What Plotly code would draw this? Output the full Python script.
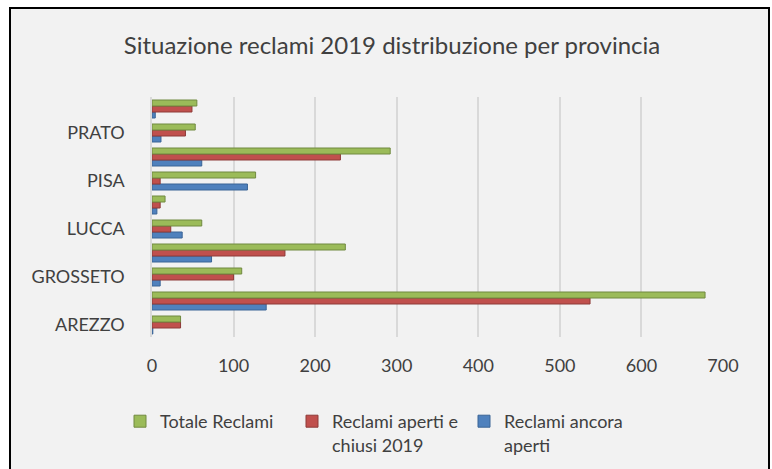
import plotly.graph_objects as go

province = ["AREZZO", "FIRENZE", "GROSSETO", "LIVORNO", "LUCCA",
            "MASSA CARRARA", "PISA", "PISTOIA", "PRATO", "SIENA"]
tick_labels = ["AREZZO", "GROSSETO", "LUCCA", "PISA", "PRATO"]
totale = [35, 678, 110, 237, 61, 16, 127, 292, 53, 55]
chiusi = [35, 537, 100, 163, 23, 10, 10, 231, 41, 49]
aperti = [1, 140, 10, 73, 37, 6, 117, 61, 11, 4]
x_ticks = [0, 100, 200, 300, 400, 500, 600, 700]

fig = go.Figure()
fig.add_trace(go.Bar(y=province, x=aperti, orientation="h",
                     name="Reclami ancora<br>aperti",
                     marker=dict(color="#4f81bd", line=dict(color="#3a6496", width=1))))
fig.add_trace(go.Bar(y=province, x=chiusi, orientation="h",
                     name="Reclami aperti e<br>chiusi 2019",
                     marker=dict(color="#c0504d", line=dict(color="#8e3a38", width=1))))
fig.add_trace(go.Bar(y=province, x=totale, orientation="h",
                     name="Totale Reclami",
                     marker=dict(color="#9bbb59", line=dict(color="#718a40", width=1))))

L, R, T, B = 152, 49, 97, 132
W, H = 772, 469
pw, ph = W - L - R, H - T - B

font_fam = "Lato, Open Sans, sans-serif"
fig.update_layout(
    width=W, height=H,
    margin=dict(l=L, r=R, t=T, b=B, autoexpand=False),
    paper_bgcolor="white",
    plot_bgcolor="rgba(0,0,0,0)",
    barmode="group", bargap=0.25, bargroupgap=0,
    font=dict(family=font_fam, size=18, color="#404040"),
    title=dict(text="Situazione reclami 2019 distribuzione per provincia",
               x=392 / W, xref="container", y=1 - 46 / H, yref="container",
               xanchor="center", yanchor="middle",
               font=dict(size=24, color="#404040", family=font_fam)),
    showlegend=True,
    legend=dict(orientation="h", traceorder="reversed",
                xref="container", yref="container",
                x=120 / W, y=1 - 403 / H, xanchor="left", yanchor="top",
                entrywidth=127, valign="top", bgcolor="rgba(0,0,0,0)",
                font=dict(size=18, color="#404040"),
                itemwidth=30),
    xaxis=dict(range=[0, 700], tickvals=x_ticks, showgrid=True,
               gridcolor="#d9d9d9", gridwidth=1.5, zeroline=False,
               ticks="", ticklabelstandoff=16, fixedrange=True),
    yaxis=dict(categoryorder="array", categoryarray=province,
               tickvals=tick_labels, ticktext=tick_labels,
               showgrid=False, showline=True, linecolor="#d9d9d9", linewidth=1.5,
               ticks="", ticklabelstandoff=22, fixedrange=True),
    shapes=[dict(type="rect", xref="paper", yref="paper",
                 x0=(10 - L) / pw, x1=(769 - L) / pw,
                 y0=(H - B - 472) / ph, y1=(H - B - 8) / ph,
                 fillcolor="#f2f2f2", line=dict(color="black", width=2),
                 layer="below")],
)

fig.write_html("out.html", config={"displayModeBar": False},
               post_script="document.body.style.margin='0px';")
